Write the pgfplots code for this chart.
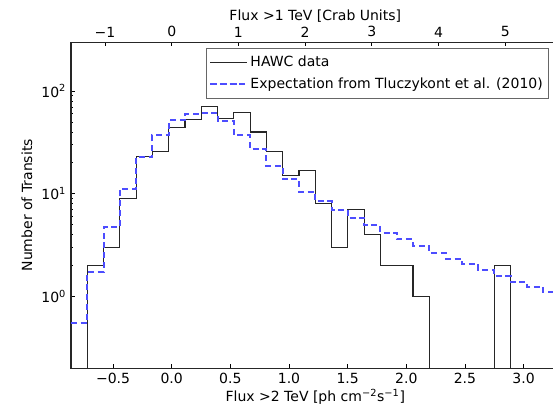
\documentclass[border=0pt]{standalone}
\usepackage{fontspec}
\setmainfont{DejaVu Sans}
\usepackage{pgfplots}
\pgfplotsset{compat=1.18}
\definecolor{expblue}{RGB}{77,77,255}
\begin{document}
\fontsize{10.5}{12.6}\selectfont
\begin{tikzpicture}
\begin{axis}[
  at={(0pt,0pt)}, anchor=south west,
  scale only axis, width=366.45pt, height=244.7pt,
  xmin=-0.8585, xmax=3.307,
  ymode=log, ymin=0.2, ymax=300,
  xtick pos=lower, ytick pos=left,
  tick align=inside,
  major tick length=3pt, minor tick length=1.6pt,
  every tick/.style={black, line width=0.6pt},
  axis line style={black!85, line width=0.8pt},
  xtick={-0.5,0,0.5,1,1.5,2,2.5,3},
  xticklabels={−0.5,0.0,0.5,1.0,1.5,2.0,2.5,3.0},
  ytick={1,10,100},
  yticklabels={10\textsuperscript{0},10\textsuperscript{1},10\textsuperscript{2}},
  ticklabel style={font=\fontsize{10.5}{12.6}\selectfont},
  xlabel={Flux >2 TeV [ph cm\textsuperscript{−2}s\textsuperscript{−1}]},
  ylabel={Number of Transits},
  x label style={at={(axis description cs:0.5,-0.088)}, anchor=center},
  y label style={at={(axis description cs:-0.09,0.5)}, anchor=center, rotate=0},
  legend style={at={(rel axis cs:0.9773,0.981)}, anchor=north east,
    draw=black!60, line width=0.6pt, fill=white,
    font=\fontsize{10.5}{12.6}\selectfont, legend cell align=left,
    inner xsep=2pt, inner ysep=3.5pt, row sep=3pt},
  legend image code/.code={\path (-1pt,0pt) -- (26.5pt,0pt); \draw[#1] (0pt,0pt) -- (22.5pt,0pt);},
  clip=true,
]
\addplot[const plot, black!85, line width=0.9pt] coordinates {
(-0.8585,0.0001) (-0.7197,2) (-0.5808,3) (-0.4420,9) (-0.3031,23)
(-0.1643,26) (-0.0254,44) (0.1135,53) (0.2523,71) (0.3912,54)
(0.5300,62) (0.6689,40) (0.8077,26) (0.9466,15) (1.0854,17)
(1.2243,8) (1.3631,3) (1.5020,7) (1.6408,4) (1.7797,2)
(1.9185,2) (2.0574,1) (2.1962,0.0001) (2.3351,0.0001) (2.4739,0.0001)
(2.6128,0.0001) (2.7516,2) (2.8905,0.0001) (3.0293,0.0001) (3.1682,0.0001)
(3.3070,0.0001)
};
\addlegendentry{HAWC data}
\addplot[const plot, expblue, line width=1.5pt, dash pattern=on 4.5pt off 2.8pt] coordinates {
(-0.8585,0.555) (-0.7197,1.75) (-0.5808,4.77) (-0.4420,11.1) (-0.3031,22.8)
(-0.1643,37) (-0.0254,52) (0.1135,60) (0.2523,61.5) (0.3912,51)
(0.5300,37) (0.6689,27) (0.8077,18.7) (0.9466,14) (1.0854,10.5)
(1.2243,8.5) (1.3631,7.0) (1.5020,5.85) (1.6408,4.95) (1.7797,4.2)
(1.9185,3.6) (2.0574,3.1) (2.1962,2.66) (2.3351,2.33) (2.4739,2.07)
(2.6128,1.80) (2.7516,1.58) (2.8905,1.39) (3.0293,1.25) (3.1682,1.11)
(3.3070,1.11)
};
\addlegendentry{Expectation from Tluczykont et al. (2010)\hspace{7.5pt}}
\node[anchor=north east, inner sep=0pt, font=\fontsize{10.5}{12.6}\selectfont] at ([xshift=-6pt,yshift=-17.5pt]rel axis cs:1,0) {1e−11};
\end{axis}
\begin{axis}[
  at={(0pt,0pt)}, anchor=south west,
  scale only axis, width=366.45pt, height=244.7pt,
  xmin=-1.5098, xmax=5.8157,
  ymin=0, ymax=1,
  axis x line*=top, axis y line=none,
  xtick align=inside,
  major tick length=3pt,
  every tick/.style={black, line width=0.6pt},
  axis line style={black!85, line width=0.8pt},
  xtick={-1,0,1,2,3,4,5},
  xticklabels={−1,0,1,2,3,4,5},
  ticklabel style={font=\fontsize{10.5}{12.6}\selectfont},
  xlabel={Flux >1 TeV [Crab Units]},
  x label style={at={(axis description cs:0.5,1)}, yshift=19.1pt, anchor=center},
]
\end{axis}
\pgfresetboundingbox
\path (-53.25pt,-32.0pt) rectangle (361.5pt,276.25pt);
\end{tikzpicture}
\end{document}
